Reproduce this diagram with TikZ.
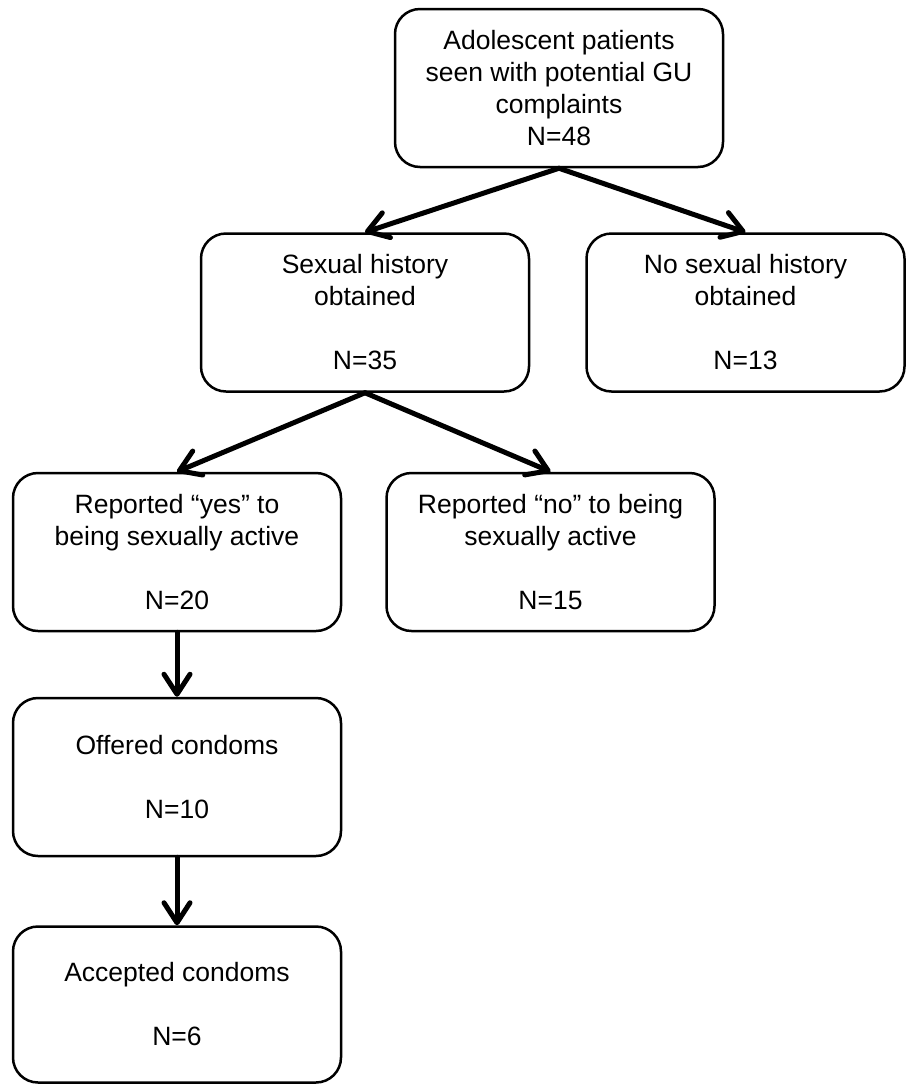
\documentclass[tikz,border=0pt]{standalone}
\usepackage{fontspec}
\setmainfont{Liberation Sans}
\usetikzlibrary{arrows.meta}
\begin{document}
\begin{tikzpicture}[x=1pt,y=-1pt,
  box/.style={draw,line width=2.5pt,rounded corners=25pt,minimum width=328pt,
    minimum height=158pt,align=center,inner sep=0pt,
    font=\fontsize{26.5}{32}\selectfont},
  flow/.style={line width=5pt,line cap=round,
    -{Straight Barb[length=20pt,width=26pt,round]}}]
\useasboundingbox (0,0) rectangle (906,1085);
\node[box] (top) at (559,88) {Adolescent patients\\seen with potential GU\\complaints\\N=48};
\node[box] (sh) at (365,312.5) {Sexual history\\obtained\\[32pt]N=35};
\node[box,minimum width=318pt] (nsh) at (745.5,312.5) {No sexual history\\obtained\\[32pt]N=13};
\node[box] (yes) at (177,552) {Reported “yes” to\\being sexually active\\[32pt]N=20};
\node[box] (no) at (550.5,552) {Reported “no” to being\\sexually active\\[32pt]N=15};
\node[box] (off) at (177,777) {Offered condoms\\[32pt]N=10};
\node[box,minimum height=156pt] (acc) at (177,1004.5) {Accepted condoms\\[32pt]N=6};
\draw[flow] (top.south) -- (sh.north);
\draw[flow] (top.south) -- (nsh.north);
\draw[flow] (sh.south) -- (yes.north);
\draw[flow] (sh.south) -- (no.north);
\draw[flow] (yes.south) -- (off.north);
\draw[flow] (off.south) -- (acc.north);
\end{tikzpicture}
\end{document}
